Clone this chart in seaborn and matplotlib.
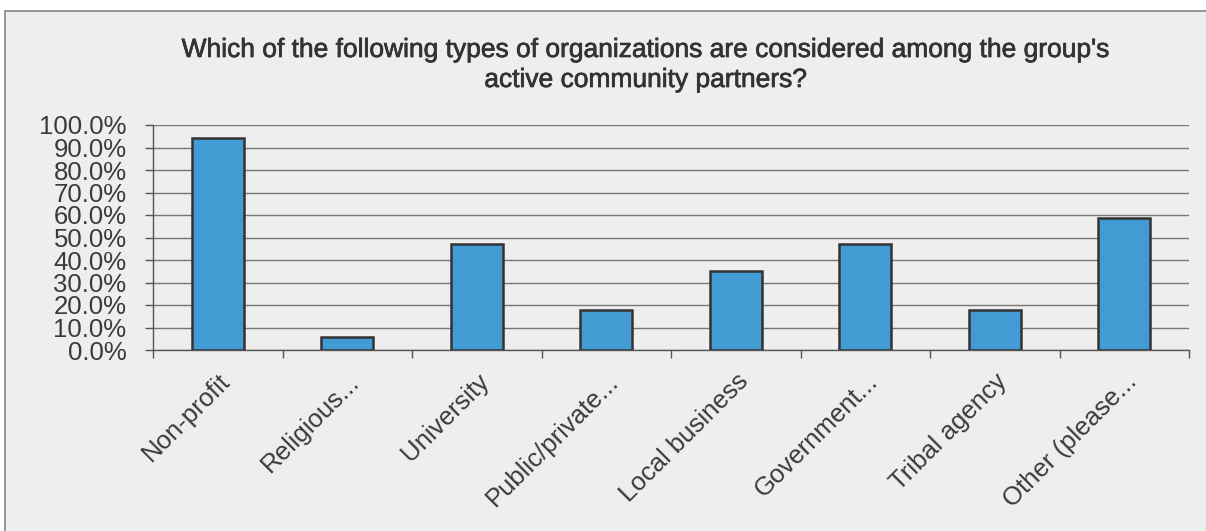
import matplotlib
matplotlib.use("Agg")
import matplotlib.pyplot as plt
import matplotlib.patheffects as pe
from matplotlib.patches import Rectangle
from matplotlib.ticker import FixedLocator
import seaborn as sns
import pandas as pd

# Survey responses: share of groups naming each partner type
categories = ["Non-profit", "Religious...", "University", "Public/private...",
              "Local business", "Government...", "Tribal agency", "Other (please..."]
percent = [94.1, 5.9, 47.1, 17.6, 35.3, 47.1, 17.6, 58.8]
y_ticks = [0, 10, 20, 30, 40, 50, 60, 70, 80, 90, 100]
title_lines = ["Which of the following types of organizations are considered among the group's",
               "active community partners?"]

sns.set_style("white")
plt.rcParams["font.family"] = ["Liberation Sans", "DejaVu Sans"]

W, H = 1206, 531
fig = plt.figure(figsize=(W / 100, H / 100), dpi=100, facecolor="white")

# grey panel behind the chart, its right and bottom edges run off the canvas
panel = Rectangle((5 / W, -0.05), 1.1, 1 - 11 / H + 0.05, transform=fig.transFigure,
                  facecolor="#eeeeee", edgecolor="#8c8c8c", linewidth=1.3, zorder=-5)
fig.patches.append(panel)

ax = fig.add_axes([153 / W, 1 - 350 / H, (1189 - 153) / W, (350 - 125) / H])
ax.set_facecolor("none")

df = pd.DataFrame({"category": categories, "percent": percent})
sns.barplot(data=df, x="category", y="percent", color="#439bd3", saturation=1,
            edgecolor="#333333", linewidth=1.8, width=0.4, ax=ax, zorder=3)

ax.set_xlim(-0.5, len(categories) - 0.5)
ax.set_ylim(0, 100)
ax.set_yticks(y_ticks)
ax.set_yticklabels([f"{v:.1f}%" for v in y_ticks])
ax.set_xlabel("")
ax.set_ylabel("")

ax.yaxis.grid(True, color="#777777", linewidth=1.0, zorder=0)
ax.set_axisbelow(True)

for side in ("top", "right"):
    ax.spines[side].set_visible(False)
for side in ("left", "bottom"):
    ax.spines[side].set_color("#555555")
    ax.spines[side].set_linewidth(1.0)

ax.tick_params(axis="y", which="major", direction="out", length=6, width=1.0,
               color="#555555", pad=13, labelsize=18.5, labelcolor="#3a3a3a", left=True)
ax.tick_params(axis="x", which="major", length=0, pad=14, labelsize=18.5,
               labelcolor="#3a3a3a")
ax.xaxis.set_minor_locator(FixedLocator([i - 0.5 for i in range(len(categories) + 1)]))
ax.tick_params(axis="x", which="minor", direction="out", length=6, width=1.0,
               color="#555555", bottom=True)
for lbl in ax.get_xticklabels():
    lbl.set_rotation(45)
    lbl.set_ha("right")
    lbl.set_rotation_mode("anchor")

heavier = [pe.withStroke(linewidth=0.5, foreground="#333333")]
fig.text(646 / W, 1 - 57 / H, title_lines[0], ha="center", va="baseline",
         fontsize=19, color="#333333", path_effects=heavier)
fig.text(646 / W, 1 - 87 / H, title_lines[1], ha="center", va="baseline",
         fontsize=19, color="#333333", path_effects=heavier)

fig.savefig("out.png", dpi=100, facecolor="white")
